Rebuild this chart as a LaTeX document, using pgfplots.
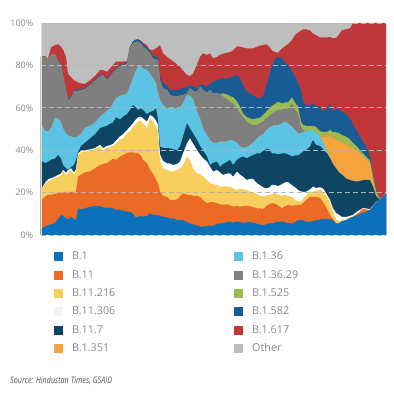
\documentclass[border=0pt]{standalone}
\usepackage{pgfplots}
\usepackage{pgfplotstable}
\pgfplotsset{compat=1.18}
\usepackage{fontspec}
\setmainfont{Open Sans}
\newfontfamily\srcfont{Open Sans}[FakeStretch=0.8]

\definecolor{cB1}{HTML}{0A70BC}
\definecolor{cB11}{HTML}{EB6A25}
\definecolor{cY}{HTML}{F8CF5C}
\definecolor{cW}{HTML}{F4F4F4}
\definecolor{cN}{HTML}{0E4563}
\definecolor{cO}{HTML}{F6A43D}
\definecolor{cLB}{HTML}{5BC3E3}
\definecolor{cG}{HTML}{7F7F7F}
\definecolor{cGr}{HTML}{9BBB50}
\definecolor{cBl}{HTML}{175C95}
\definecolor{cR}{HTML}{C0373A}
\definecolor{cOth}{HTML}{BEBEBE}
\definecolor{cTxt}{HTML}{8A8A8A}
\definecolor{cSrc}{HTML}{555555}
\definecolor{cGrid}{HTML}{B4B4B4}
\definecolor{cAx}{HTML}{D8D8D8}

% cumulative tops of each layer (percent)
\pgfplotstableread{
px b1 b11 y216 w306 n7 lb o351 g29 gr bl r617
41 3 16.5 21 21.3 35 52.7 52.7 84 84 84 84.2
45 4 18 24 24.6 34 49 49 84 84 84 84.5
48 4.7 19 25.5 26.2 34.5 48.7 48.7 82.5 82.5 82.5 83
51 5 19 26 26.8 35.5 50.3 50.3 85 85 85 88.5
55 5.5 19.5 26.7 27.5 36 55 55 85.4 85.4 85.4 89.6
58 7.5 19.7 27.5 28.3 37.7 55 55 82 82 82 90
61 9.4 19.7 28 29 36 53 53 80.2 80.2 80.2 88.8
63 9 20 29.9 30.7 33 50.3 50.3 75.5 75.5 75.5 87.5
66 7.9 20.4 28.3 29.3 31.5 48 48 68.4 68.4 68.6 84
68 7.5 20.4 29 30.5 30.7 47 47 63.7 63.7 64.3 76
71 8.6 20.4 30.7 31.5 32 46.4 46.4 64.5 64.5 65.2 74.5
74 7.5 20.4 28.5 29.5 33 46 46 67.6 67.6 68.2 73
76 7 20.5 30 31 35.4 46 46 68 68 68.6 72.5
78 12.6 27.5 37.7 38.5 39 46.5 46.5 68 68 68.6 72
81 12 28.5 39 39.6 42 47.5 47.5 68.2 68.2 68.8 71.5
85 12.5 29.5 39.5 40 43.5 50.5 50.5 68.8 68.8 69.4 71.2
90 13.4 30 39.5 40.4 45.5 51.5 51.5 70.7 70.7 71.3 73
95 13.6 31.5 40.5 41 47.5 53 53 72.8 72.8 73.3 75
100 13.7 33 41.7 42.5 50.3 55.8 55.8 74.7 74.7 75.2 77.8
103 13 33.5 40 41 51 57 57 75.5 75.5 76 77.8
107 12.6 34 41 42 51.5 58.5 58.5 73 73 73.6 77
110 13 35 41.5 42.3 52.5 59.7 59.7 74.7 74.7 75.3 78.6
113 12.5 36 42 43 53 62 62 76.6 76.6 77.2 80.2
116 12 35.4 43.2 44.5 55.5 64.5 64.5 78 78 78.6 81.8
120 11.8 37 45 46.5 54.5 65.6 65.6 79.7 79.7 80.3 81.8
123 11.5 37.7 45.6 47.5 55.8 66 66 79.7 79.7 80.3 81.8
127 11 38.8 48 49.5 57 66.8 66.8 81 81 81.6 82
130 11 39 49 51 59 70 70 88 88 88.6 88.7
133 10 39 51 52.7 61.3 74 74 90.4 90.4 91.2 91.3
135 8.6 38.8 51.9 54 60.5 76.3 76.3 91 91 92 92.1
138 8.6 38.5 53.5 55.5 59 79.7 79.7 91.2 91.2 92.3 92.4
141 9 37.5 54 55.8 59.7 79.5 79.5 90.4 90.4 91.5 91.6
143 8.6 35.4 52.7 55 59 78.6 78.6 88.8 88.8 90 90.7
147 9 33.8 50.3 53.5 57 77.8 77.8 87.3 87.3 88.5 89.5
150 10.2 31 55 56.6 58 76 76 85.7 85.7 86.8 87.3
153 9.5 29 53.5 55.8 58.5 73.9 73.9 83.3 83.3 84.6 87.3
156 9.4 26 51 54 59.7 71.5 71.5 82.8 82.8 84 88
158 9.4 24.4 49 52 54.2 66.8 66.8 82.5 82.5 84 88.8
160 9 20.5 35 38 41.7 64 64 73 73 75 89.6
163 8.6 18.5 31.4 35 41 61.3 61.3 69.2 69.2 71.5 85.7
167 8.3 18 30.7 33.8 41 59.7 59.7 68.4 68.4 70.7 84
170 7.9 16.5 30 33.8 40.9 60.2 60.2 66 66 68.4 83
173 7.9 16.5 30 33 40.5 59.7 59.7 65.5 65.5 68.4 82
177 7 16.8 30.7 33.5 40 59.7 59.7 65.3 65.3 68.4 80.5
180 7 18.1 31.4 34.6 41.7 60 60 65.8 65.8 68.8 79.4
183 7 19.7 33 38.5 46.4 62.1 62.1 66 66 69.2 77.5
187 6 19 37 43.2 52.7 66 66 66.8 66.8 70 75.5
190 5.5 18.9 35.4 45.6 50.3 65.5 65.5 69.2 69.2 70.8 75
193 5 18.5 31.4 43.2 48 64 64 68 68 70 76
197 4.5 18.5 29 40 44.8 58 58 67.6 67.6 69.2 80.5
200 4 18 29 38 42 55 55 70 70 71 84
203 4 16.5 27.5 36.2 40 50.3 50.3 68.5 68.5 70.8 85.7
207 4.2 15 25.9 34.6 37 47.2 47.2 67 67 70 85
210 4.3 15.5 24.4 32.2 33 44.8 44.8 68.4 68.4 71.5 85.7
213 4.3 15.5 24 29.9 34 43.5 43.5 66.8 66.8 72.3 83.3
217 5.3 15 23.6 30.7 34.6 43.5 43.5 66.8 66.8 73 84
220 5.5 14.5 22.8 29.5 32.2 44 44 66.5 66.5 73.5 85
223 5.5 14.2 23 28.3 33.5 44 44 65.3 66.8 73.9 85.5
227 6 14.5 22.8 29 34.5 44 44 64 66.3 73.9 86
230 6.3 14 22.8 29.1 35.4 44.8 44.8 62.9 65.5 74.3 86.3
233 5.8 13.4 22 27.5 33 44.5 44.5 62 65 74.7 87
237 6.3 13.6 21.2 29.9 35.4 43.5 43.5 60 63 75.5 89
240 6 13.4 22 28.5 36.5 41.7 41.7 57.5 60.5 73.9 88.8
243 5.8 13.6 21.5 27.5 37 41 41 55.8 57.4 70.8 88.5
247 6 13.8 21.2 25.9 36.2 41.5 41.5 53.5 55.5 67.6 88
250 6.2 13.5 20.4 26.5 37 42.5 42.5 52.5 55 66.8 88
253 5.8 13.2 20 26.5 37.7 43.5 43.5 51.9 54.7 66 88
257 5.3 12.6 19.5 24.4 38.5 45.5 45.5 51.9 55 64.8 88.8
260 4.8 12.5 18.3 23.5 38.5 46.8 46.8 52.7 55.3 64.5 89.3
263 4.7 12.2 18.3 22.5 39.5 47.5 47.5 53.5 56.6 65.5 89.6
266 5 13.5 18.5 22 40.5 49 49 55 58 70 90
269 5.5 14.5 18.9 22.3 40.5 50.5 50.5 56.2 59.5 75 89
272 5.5 15 19.3 23.6 38.5 51.2 51.2 57.3 61 80 87
275 6 14.8 19.7 23.6 38.5 51.9 51.9 58.2 61.8 83 86.3
278 6.2 14 19 23 38 51.7 51.7 58.8 62.9 84 86
282 6.3 12.6 18.5 24 38.5 52.5 52.5 59.2 62 83.3 88
285 6 13.5 18.9 24.8 38.5 53.5 53.5 59.7 62.5 81.5 89
288 5.6 14.2 18.5 25 38 52.5 52.5 59.4 62.5 80 90
292 5.5 13.8 18 23.5 37 51.1 51.1 62 64.9 77 92
295 6 14 16.5 22.5 37.5 49.5 49.5 59 62.5 74.7 94.3
298 7 14.2 16 21.2 37.5 47.9 47.9 57.4 60.5 71.5 95.5
301 7 14.2 15.7 20.5 38.5 47.9 47.9 51 53.5 68.4 96.4
303 7 15 17 20.4 39.3 48.5 48.5 49.5 52 63 97
306 6.3 16.5 18.5 20.4 40 49.1 49.1 49.1 51.5 61.3 97
310 6.3 18 20.4 21.5 41.7 49.5 49.5 49.5 51.5 61.3 96.5
313 6.5 18 20.5 22.8 44.8 49.3 49.3 49.3 51.5 62 95
316 7 18 20.8 22.2 42.5 48.5 48.5 48.5 51 61 94.3
320 7.3 17.5 21.2 22.5 42 46.4 46.6 46.6 48.9 60.5 93.2
323 7.5 15.5 20.4 22 40.5 44 46.4 46.4 48.7 58.2 93.2
327 7.5 12.5 18 19 38.5 39.5 46.4 46.4 48.7 59.7 93.2
330 7.5 9.5 15 16.5 36.2 36.2 47.2 47.2 49.5 62 93.5
333 7 7.5 11 12.5 33.5 33.5 46 46 48.5 58.2 92.8
336 5.5 5.5 7.5 10.5 31.5 31.5 45 45 48.5 59.5 93
339 5.5 5.5 6.5 9.5 29.5 29.5 44.3 44.3 48 59.5 94.5
342 6.5 6.5 7 8.5 28.5 28.5 43.6 43.6 47.2 58.2 96.7
346 7 7 7.3 8.5 26.7 26.7 43 43 46.4 57 97
350 8 8 8.3 9 25.9 25.9 41.7 41.7 45 55 97.5
353 8.6 8.6 8.9 9.5 25.5 25.5 41 41 43.5 52 100
357 9.4 9.8 10 11 25.2 25.2 40 40 41.7 49 100
360 10 11 11.2 11.8 25.5 25.5 38.5 38.5 40 46.5 100
363 10.5 12.5 12.5 12.8 25.9 25.9 37 37 38.5 44 100
366 11 12 12 12.5 26 26 36 36 37 42 100
370 11.8 11.8 11.8 12.2 25.9 25.9 33.8 33.8 35 37 100
373 13.5 13.5 13.5 13.8 22.8 22.8 26 26 28 29 100
376 15.3 15.3 15.3 15.5 18.5 18.5 19.5 19.5 21 21.5 100
379 16.5 16.5 16.5 16.5 17 17 17.2 17.2 17.8 18 100
382 17.5 17.5 17.5 17.5 17.5 17.5 17.5 17.5 17.5 17.5 100
386 19.7 19.7 19.7 19.7 19.7 19.7 19.7 19.7 19.7 19.7 100
}\data

\begin{document}
\begin{tikzpicture}
\path[use as bounding box] (0,0) rectangle (394pt,394pt);
\begin{axis}[
  at={(41pt,159pt)}, anchor=south west,
  scale only axis, width=345pt, height=212pt,
  xmin=41, xmax=386, ymin=0, ymax=100,
  axis x line=none, axis y line*=left,
  axis line style={draw=cAx, line width=0.8pt},
  ytick={0,20,40,60,80,100},
  yticklabels={0\%,20\%,40\%,60\%,80\%,100\%},
  yticklabel style={font=\fontsize{9}{10}\selectfont, text=cTxt, inner sep=0pt, xshift=-7.5pt},
  major tick length=0pt,
  ymajorgrids,
  grid style={draw=cGrid, dash pattern=on 5pt off 3pt, line width=0.6pt},
  axis on top,
  legend columns=2,
  legend image code/.code={\fill[#1] (0pt,-4.5pt) rectangle (9pt,4.5pt); \path (16pt,0pt);},
  legend style={at={(0.0377,-0.0693)}, anchor=north west, draw=none, fill=none,
    inner sep=0pt, row sep=4.3pt, font=\fontsize{10.8}{12}\selectfont, text=cTxt,
    nodes={text width=160pt, align=left, inner sep=2pt, text height=8pt, text depth=2pt}},
]
\addplot[draw=none, fill=cOth, forget plot] coordinates {(41,100) (386,100)} \closedcycle;
\addplot[draw=none, fill=cR, forget plot] table[x=px, y=r617] {\data} \closedcycle;
\addplot[draw=none, fill=cBl, forget plot] table[x=px, y=bl] {\data} \closedcycle;
\addplot[draw=none, fill=cGr, forget plot] table[x=px, y=gr] {\data} \closedcycle;
\addplot[draw=none, fill=cG, forget plot] table[x=px, y=g29] {\data} \closedcycle;
\addplot[draw=none, fill=cO, forget plot] table[x=px, y=o351] {\data} \closedcycle;
\addplot[draw=none, fill=cLB, forget plot] table[x=px, y=lb] {\data} \closedcycle;
\addplot[draw=none, fill=cN, forget plot] table[x=px, y=n7] {\data} \closedcycle;
\addplot[draw=none, fill=white, forget plot] table[x=px, y=w306] {\data} \closedcycle;
\addplot[draw=none, fill=cY, forget plot] table[x=px, y=y216] {\data} \closedcycle;
\addplot[draw=none, fill=cB11, forget plot] table[x=px, y=b11] {\data} \closedcycle;
\addplot[draw=none, fill=cB1, forget plot] table[x=px, y=b1] {\data} \closedcycle;

\addlegendimage{fill=cB1, draw=none}\addlegendentry{B.1}
\addlegendimage{fill=cLB, draw=none}\addlegendentry{B.1.36}
\addlegendimage{fill=cB11, draw=none}\addlegendentry{B.11}
\addlegendimage{fill=cG, draw=none}\addlegendentry{B.1.36.29}
\addlegendimage{fill=cY, draw=none}\addlegendentry{B.11.216}
\addlegendimage{fill=cGr, draw=none}\addlegendentry{B.1.525}
\addlegendimage{fill=cW, draw=none}\addlegendentry{B.11.306}
\addlegendimage{fill=cBl, draw=none}\addlegendentry{B.1.582}
\addlegendimage{fill=cN, draw=none}\addlegendentry{B.11.7}
\addlegendimage{fill=cR, draw=none}\addlegendentry{B.1.617}
\addlegendimage{fill=cO, draw=none}\addlegendentry{B.1.351}
\addlegendimage{fill=cOth, draw=none}\addlegendentry{Other}
\end{axis}
\node[anchor=base west, inner sep=0pt, text=cSrc, font=\srcfont\itshape\fontsize{9}{10}\selectfont] at (10pt,10pt) {Source: Hindustan Times, GSAID};
\end{tikzpicture}
\end{document}
